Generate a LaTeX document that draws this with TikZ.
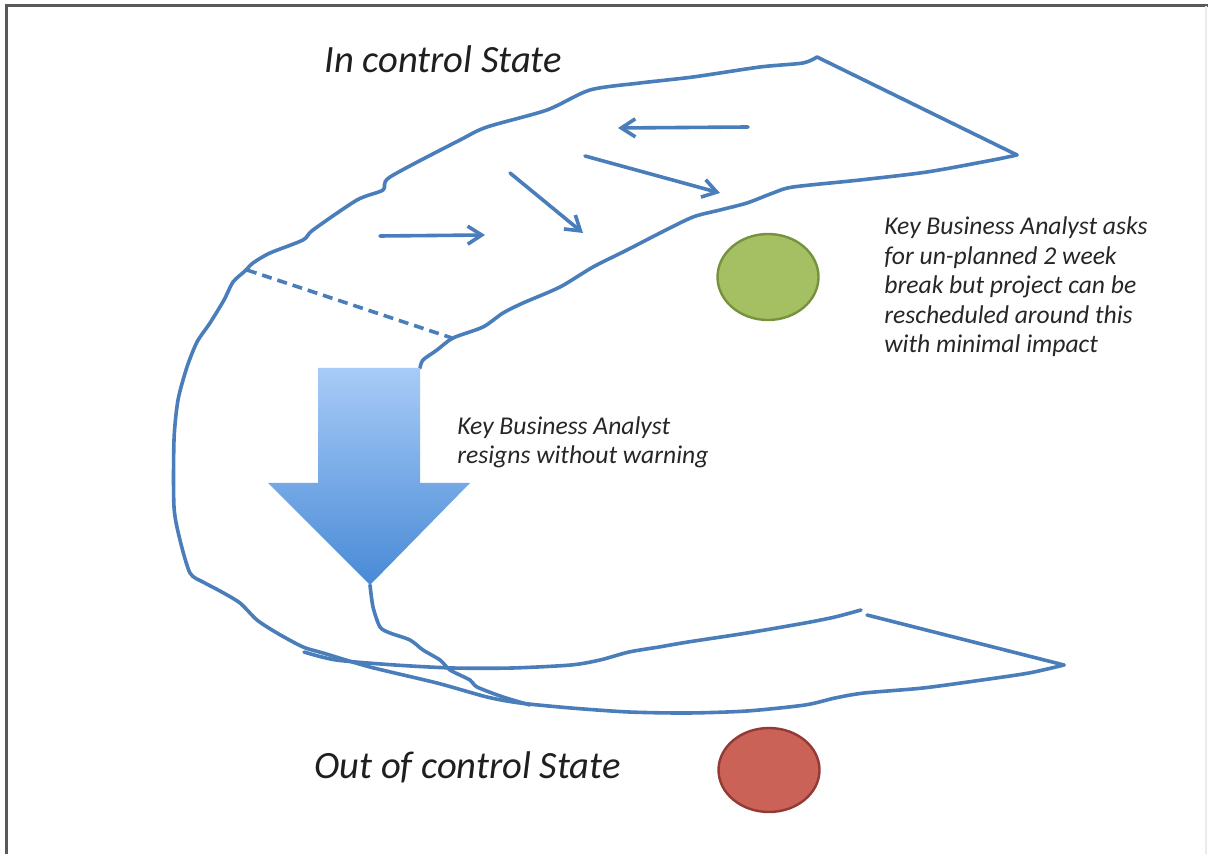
\documentclass[tikz,border=0pt]{standalone}
\usepackage{fontspec}
\setmainfont{Carlito}
\usetikzlibrary{arrows.meta,shapes.geometric}

\definecolor{skblue}{RGB}{74,126,187}
\definecolor{arrtop}{RGB}{168,203,247}
\definecolor{arrbot}{RGB}{72,138,214}
\definecolor{greenfill}{RGB}{164,192,98}
\definecolor{greenrim}{RGB}{118,146,62}
\definecolor{redfill}{RGB}{203,98,88}
\definecolor{redrim}{RGB}{146,58,54}

\begin{document}
\begin{tikzpicture}[x=0.5pt,y=-0.5pt,
    sketch/.style={draw=skblue,line width=1.8pt,line cap=round,line join=round},
    dashsketch/.style={draw=skblue,line width=1.8pt,dash pattern=on 5pt off 3pt},
    flowarrow/.style={sketch,-{Straight Barb[length=7pt,width=9pt]}},
    statelabel/.style={font=\fontsize{19.3}{23}\selectfont\itshape,text=black!88,inner sep=0pt,anchor=base west},
    notelabel/.style={font=\fontsize{12.8}{14.75}\selectfont\itshape,text=black!85,inner sep=0pt,align=left,anchor=base west},
    greendot/.style={ellipse,draw=greenrim,fill=greenfill,line width=1.2pt,minimum width=50.5pt,minimum height=43pt},
    reddot/.style={ellipse,draw=redrim,fill=redfill,line width=1.2pt,minimum width=50.5pt,minimum height=42pt}
  ]
  \useasboundingbox (0,0) rectangle (1208,854);
  % page frame
  \draw[black!65,line width=1.5pt] (6,854) -- (6,6) -- (1208,6);
  \draw[black!8,line width=1pt] (1206,6) -- (1206,854);

  % the shell: outer edge, from the top tip round to the bottom tip
  \draw[sketch] plot[smooth,tension=0.45] coordinates {
    (817,57) (803,63) (760,67) (693,77) (640,83) (590,90) (547,110) (487,127)
    (460,140) (390,177) (383,190) (357,200) (313,230) (303,240) (270,253)
    (253,263) (245,271) (233,282) (224,300) (210,323) (197,342) (187,367)
    (178,400) (174,440) (174,507) (180,540) (190,573) (203,582) (220,591)
    (240,603) (257,620) (277,633) (303,647) (323,653) (370,667) (437,683)
    (487,697) (520,703) (571,708) (629,712) (688,713) (747,711) (805,705)
    (835,698) (864,693) (923,688) (982,680) (1029,673) (1064,665)};
  \draw[sketch] (817,57) -- (1017,155);
  \draw[sketch] (1064,665) -- (867,615);
  % inner edge of the upper band, down to the big arrow
  \draw[sketch] plot[smooth,tension=0.45] coordinates {
    (1017,155) (993,160) (927,172) (860,180) (793,187) (773,193) (747,203)
    (720,210) (693,217) (660,233) (627,250) (593,267) (560,287) (523,303)
    (503,313) (483,327) (453,338) (437,350) (423,360) (420,368)};
  % inner edge of the lower band
  \draw[sketch] plot[smooth,tension=0.45] coordinates {
    (304,652) (336,660) (395,665) (453,668) (512,668) (571,665) (600,660)
    (629,652) (659,647) (688,642) (747,633) (805,623) (835,617) (861,610)};
  % stroke from the arrow tip
  \draw[sketch] plot[smooth,tension=0.45] coordinates {
    (370,585) (373,607) (380,627) (390,633) (410,640) (423,650) (440,660)
    (450,670) (470,680) (477,687) (503,697) (530,705)};
  \draw[dashsketch] (247,270) -- (452,338);

  % big arrow
  \shade[top color=arrtop,bottom color=arrbot]
    (318,368) -- (420,368) -- (420,483) -- (470,483) -- (370,585)
    -- (268,483) -- (318,483) -- cycle;

  % small arrows inside the band
  \draw[flowarrow] (748,127) -- (618,128);
  \draw[flowarrow] (585,156) -- (720,193);
  \draw[flowarrow] (510,173) -- (583,233);
  \draw[flowarrow] (380,236) -- (485,235);

  \node[greendot] (incdot) at (768,277) {};
  \node[reddot] (outdot) at (769,770) {};

  \node[statelabel] (instate) at (324,73) {In control State};
  \node[statelabel] (outstate) at (314,778) {Out of control State};
  \node[notelabel] (breaknote) at (884,353) {Key Business Analyst asks\\for un-planned 2 week\\break but project can be\\rescheduled around this\\with minimal impact};
  \node[notelabel] (resignnote) at (457,464) {Key Business Analyst\\resigns without warning};
\end{tikzpicture}
\end{document}
